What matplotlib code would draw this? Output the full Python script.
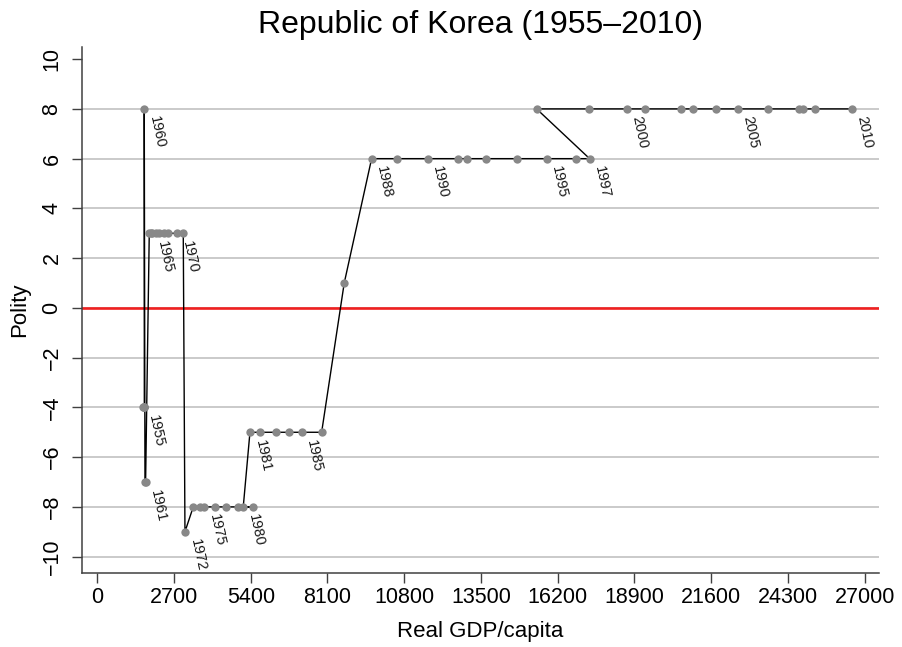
import matplotlib
matplotlib.use('Agg')
import matplotlib.pyplot as plt

plt.rcParams['font.family'] = ['Liberation Sans', 'DejaVu Sans']

# Republic of Korea, real GDP per capita vs. polity score
years = list(range(1955, 2011))
gdp = [1618, 1630, 1640, 1648, 1655, 1653, 1678, 1700,
       1829, 1880, 1924, 2050, 2181, 2330, 2480, 2804, 3025,
       3085, 3377, 3613, 3754, 4141, 4528, 4960, 5467, 5136,
       5372, 5724, 6287, 6755, 7191, 7894, 8689,
       9653, 10554, 11634, 12679, 13017, 13675, 14754, 15810, 16830, 17323,
       15458, 17309, 18645, 19257, 20545, 20946, 21766, 22540, 23606,
       24697, 24837, 25238, 26561]
polity = [-4, -4, -4, -4, -4, 8, -7, -7,
          3, 3, 3, 3, 3, 3, 3, 3, 3,
          -9, -8, -8, -8, -8, -8, -8, -8, -8,
          -5, -5, -5, -5, -5, -5, 1,
          6, 6, 6, 6, 6, 6, 6, 6, 6, 6,
          8, 8, 8, 8, 8, 8, 8, 8, 8, 8, 8, 8, 8]
label_years = [1955, 1960, 1961, 1965, 1970, 1972, 1975, 1980, 1981,
               1985, 1988, 1990, 1995, 1997, 2000, 2005, 2010]

xticks = list(range(0, 27001, 2700))
yticks = list(range(-10, 11, 2))

fig = plt.figure(figsize=(9.03, 6.47), dpi=100)
ax = fig.add_axes([0.0908, 0.1139, 0.8826, 0.8139])

ax.axhline(0, color='#f02020', lw=1.9, zorder=2)
ax.plot(gdp, polity, color='black', lw=1.0, zorder=3)
ax.plot(gdp, polity, 'o', color='#888888', ms=6, mec='none', zorder=4)

for yr, x, y in zip(years, gdp, polity):
    if yr in label_years:
        ax.annotate(str(yr), (x, y), xytext=(1.8, -4.5), textcoords='offset points',
                    rotation=-78, ha='left', va='top', fontsize=10.5, color='#1a1a1a')

ax.set_xlim(-538, 27505)
ax.set_ylim(-10.67, 10.5)
ax.set_xticks(xticks)
ax.set_yticks(yticks)
ax.set_yticklabels([str(v).replace('-', '\u2212') for v in yticks])

ax.grid(axis='y', color='#c6c6c6', lw=1.3, zorder=1)
ax.yaxis.get_gridlines()[-1].set_visible(False)

for s in ['top', 'right']:
    ax.spines[s].set_visible(False)
for s in ['left', 'bottom']:
    ax.spines[s].set_color('#404040')
    ax.spines[s].set_linewidth(1.1)

ax.tick_params(axis='both', direction='out', length=7, width=1, color='#404040',
               labelsize=15.5, pad=3)
ax.tick_params(axis='y', labelrotation=90, pad=7)
for lab in ax.get_yticklabels():
    lab.set_va('center')

ax.set_xlabel('Real GDP/capita', fontsize=16, labelpad=9)
ax.set_ylabel('Polity', fontsize=16, labelpad=8)
ax.set_title('Republic of Korea (1955\u20132010)', fontsize=23, pad=10)

fig.savefig('out.png', dpi=100)
